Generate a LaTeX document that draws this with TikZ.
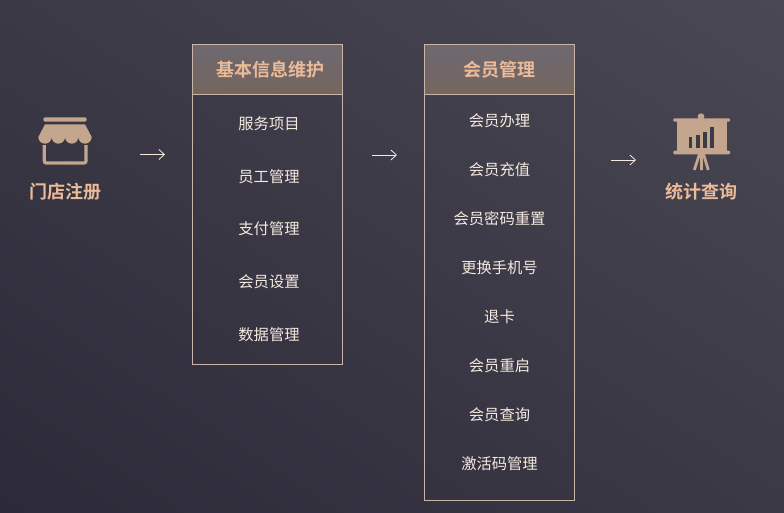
\documentclass[tikz,border=0pt]{standalone}
\usepackage{fontspec}
\setmainfont{Noto Sans CJK SC}[BoldFont={Noto Sans CJK SC Bold}]
\usetikzlibrary{arrows.meta, shadings}

\definecolor{bgdark}{HTML}{2C2A38}
\definecolor{bglight}{HTML}{4B4855}
\definecolor{iconcolor}{HTML}{C4A58E}
\definecolor{headtext}{HTML}{EBBB98}
\definecolor{itemtext}{HTML}{F5E9DF}
\definecolor{framecolor}{HTML}{C9B6A8}
\definecolor{headtop}{HTML}{6E6870}
\definecolor{headbottom}{HTML}{75665F}

\tikzset{
    listframe/.style={draw=framecolor, line width=0.9pt, minimum width=150pt, inner sep=0, outer sep=0},
    listhead/.style={listframe, minimum height=50pt, top color=headtop, bottom color=headbottom,
        font=\fontsize{18}{20}\selectfont\bfseries, text=headtext},
    listitem/.style={font=\fontsize{15.3}{18}\selectfont, text=itemtext},
    sidelabel/.style={font=\fontsize{18}{20}\selectfont\bfseries, text=headtext},
    flowarrow/.style={draw=itemtext, line width=0.8pt, -{Straight Barb[length=5.5pt, width=10pt]}}
}

\begin{document}
\begin{tikzpicture}[x=1pt, y=-1pt]
        \useasboundingbox (0, 0) rectangle (784, 512);
        \shade[lower left=bgdark, upper right=bglight, lower right=bgdark!50!bglight, upper left=bgdark!50!bglight] (0, 0) rectangle (784, 512);

        % Store icon:
        \fill[iconcolor, rounded corners=2pt] (43.3, 117.3) rectangle (86.7, 121.7);
        \fill[iconcolor] (45, 124.3) -- (85, 124.3) -- (91.7, 137)
            arc[start angle=0, end angle=180, radius=6.67] arc[start angle=0, end angle=180, radius=6.67]
            arc[start angle=0, end angle=180, radius=6.67] arc[start angle=0, end angle=180, radius=6.67] -- cycle;
        \draw[iconcolor, line width=3.2pt, rounded corners=2pt] (44.3, 145) |- (86, 163) -- (86, 145);
        \node[sidelabel] (storeLabel) at (65.5, 192) {门店注册};

        % Lists:
        \node[listframe, minimum height=320pt] (infoBox) at (267.5, 204.5) {};
        \node[listhead, text width=150pt, align=center] (infoHead) at (267.5, 69.5) {\hspace*{5pt}\raisebox{-0.5pt}{基本信息维护}};
        \node[listitem] (infoA) at (269, 124) {服务项目};
        \node[listitem] (infoB) at (269, 177) {员工管理};
        \node[listitem] (infoC) at (269, 229) {支付管理};
        \node[listitem] (infoD) at (269, 282) {会员设置};
        \node[listitem] (infoE) at (269, 335) {数据管理};

        \node[listframe, minimum height=456pt] (memberBox) at (499.5, 272.5) {};
        \node[listhead] (memberHead) at (499.5, 69.5) {\raisebox{-0.5pt}{会员管理}};
        \node[listitem] (memberA) at (499.5, 121) {会员办理};
        \node[listitem] (memberB) at (499.5, 170) {会员充值};
        \node[listitem] (memberC) at (499.5, 219) {会员密码重置};
        \node[listitem] (memberD) at (499.5, 268) {更换手机号};
        \node[listitem] (memberE) at (499.5, 317) {退卡};
        \node[listitem] (memberF) at (499.5, 366) {会员重启};
        \node[listitem] (memberG) at (499.5, 415) {会员查询};
        \node[listitem] (memberH) at (499.5, 464) {激活码管理};

        % Chart icon:
        \fill[iconcolor] (701, 116.7) circle (3.4);
        \fill[iconcolor, rounded corners=1pt] (673.3, 118.3) rectangle (730, 121.7);
        \fill[iconcolor] (676.7, 119) rectangle (726.7, 152);
        \fill[iconcolor, rounded corners=1pt] (673.3, 150.7) rectangle (730, 154.3);
        \foreach \x/\y in {689/137.3, 696.3/135, 703.3/131.7, 710.3/126.7}
            \fill[bgdark!45!bglight] (\x, \y) rectangle (\x+3.4, 148.3);
        \draw[iconcolor, line width=2.8pt] (699.5, 154) -- (694.3, 170) (701.5, 154) -- (701.5, 170) (703.5, 154) -- (708.3, 170);
        \node[sidelabel] (chartLabel) at (701.5, 192) {统计查询};

        % Arrows:
        \coordinate (arrowAstart) at (140, 154.5);
        \coordinate (arrowAend) at (165, 154.5);
        \coordinate (arrowBstart) at (372, 155);
        \coordinate (arrowBend) at (397, 155);
        \coordinate (arrowCstart) at (611, 160);
        \coordinate (arrowCend) at (636, 160);
        \draw[flowarrow] (arrowAstart) -- (arrowAend);
        \draw[flowarrow] (arrowBstart) -- (arrowBend);
        \draw[flowarrow] (arrowCstart) -- (arrowCend);
    \end{tikzpicture}
\end{document}
